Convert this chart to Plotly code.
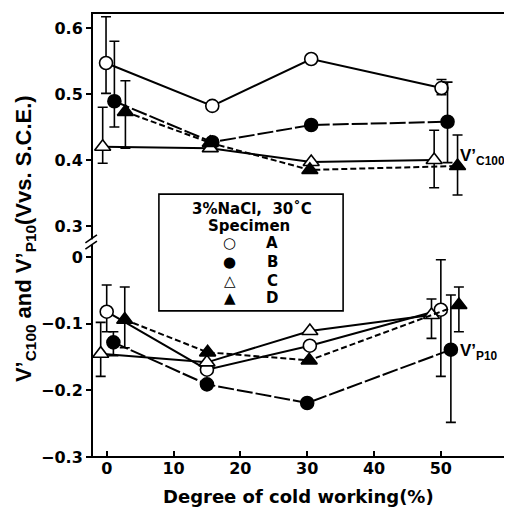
import plotly.graph_objects as go

# ---------------- data ----------------
# Upper panel: V'C100 (V vs. S.C.E.)
c100_A_x = [-0.1, 15.8, 30.6, 50.1]
c100_A_v = [0.547, 0.482, 0.553, 0.509]
c100_A_ep = [0.070, None, None, 0.013]
c100_A_em = [0.046, None, None, 0.010]

c100_B_x = [1.15, 15.8, 30.6, 51.0]
c100_B_v = [0.489, 0.427, 0.453, 0.458]
c100_B_ep = [0.091, None, None, 0.060]
c100_B_em = [0.039, None, None, 0.062]

c100_C_x = [-0.6, 15.5, 30.6, 49.0]
c100_C_v = [0.420, 0.418, 0.397, 0.400]
c100_C_ep = [0.060, None, None, 0.045]
c100_C_em = [0.025, None, None, 0.042]

c100_D_x = [2.8, 15.5, 30.4, 52.5]
c100_D_v = [0.473, 0.426, 0.385, 0.391]
c100_D_ep = [0.047, None, None, 0.047]
c100_D_em = [0.055, None, None, 0.044]

# Lower panel: V'P10 (V vs. S.C.E.)
p10_A_x = [0.0, 15.0, 30.4, 50.0]
p10_A_v = [-0.082, -0.169, -0.133, -0.079]
p10_A_ep = [0.040, None, None, 0.075]
p10_A_em = [0.030, None, None, 0.100]

p10_B_x = [1.0, 15.0, 30.0, 51.5]
p10_B_v = [-0.128, -0.191, -0.219, -0.139]
p10_B_ep = [0.016, None, None, 0.082]
p10_B_em = [0.020, None, None, 0.109]

p10_C_x = [-0.9, 15.0, 30.4, 48.6]
p10_C_v = [-0.145, -0.158, -0.111, -0.087]
p10_C_ep = [0.047, None, None, 0.024]
p10_C_em = [0.034, None, None, 0.035]

p10_D_x = [2.7, 15.1, 30.3, 52.7]
p10_D_v = [-0.094, -0.143, -0.155, -0.072]
p10_D_ep = [0.049, None, None, 0.027]
p10_D_em = [0.042, None, None, 0.040]

x_ticks = [0, 10, 20, 30, 40, 50]
upper_ticks = [0.3, 0.4, 0.5, 0.6]
lower_ticks = [-0.3, -0.2, -0.1, 0.0]
lower_ticktext = ["\u22120.3", "\u22120.2", "\u22120.1", "0"]

specimens = ["A", "B", "C", "D"]
legend_symbols = ["\u25CB", "\u25CF", "\u25B3", "\u25B2"]

# ---------------- styling ----------------
FONT = "DejaVu Sans"
LFONT = "Liberation Sans"
styles = {
    "A": dict(symbol="circle", fill="white", dash="solid"),
    "B": dict(symbol="circle", fill="black", dash="16px,3px"),
    "C": dict(symbol="triangle-up", fill="white", dash="solid"),
    "D": dict(symbol="triangle-up", fill="black", dash="6px,3px"),
}

fig = go.Figure()


def add_series(name, xs, vs, ep, em, yaxis):
    st = styles[name]
    fig.add_trace(go.Scatter(
        x=xs, y=vs, mode="lines+markers", name=name, showlegend=False,
        xaxis="x", yaxis=yaxis,
        line=dict(color="black", width=2, dash=st["dash"]),
        marker=dict(symbol=st["symbol"], size=13 if "circle" in st["symbol"] else 14,
                    color=st["fill"], line=dict(color="black", width=1.6)),
        error_y=dict(type="data", symmetric=False, array=ep, arrayminus=em,
                     color="black", thickness=1.6, width=5),
    ))


add_series("A", c100_A_x, c100_A_v, c100_A_ep, c100_A_em, "y2")
add_series("B", c100_B_x, c100_B_v, c100_B_ep, c100_B_em, "y2")
add_series("C", c100_C_x, c100_C_v, c100_C_ep, c100_C_em, "y2")
add_series("D", c100_D_x, c100_D_v, c100_D_ep, c100_D_em, "y2")
add_series("A", p10_A_x, p10_A_v, p10_A_ep, p10_A_em, "y")
add_series("B", p10_B_x, p10_B_v, p10_B_ep, p10_B_em, "y")
add_series("C", p10_C_x, p10_C_v, p10_C_ep, p10_C_em, "y")
add_series("D", p10_D_x, p10_D_v, p10_D_ep, p10_D_em, "y")

BREAK = 0.4842
tickfont = dict(family=FONT, size=16, color="black", weight="bold")

# the page body adds an 8px margin, so the figure is 8px smaller than the window
fig.update_layout(
    width=504, height=502,
    margin=dict(l=84, r=7, t=5, b=53),
    paper_bgcolor="white", plot_bgcolor="white",
    font=dict(family=FONT, color="black"),
    xaxis=dict(domain=[0, 1], range=[-2.2, 59.6], anchor="y",
               tickvals=x_ticks, ticks="inside", ticklen=6, tickwidth=1.5,
               tickcolor="black", showgrid=False, zeroline=False, showline=False,
               tickfont=tickfont),
    yaxis=dict(domain=[0, BREAK], range=[-0.3, 0.0225], anchor="x",
               tickvals=lower_ticks, ticktext=lower_ticktext,
               ticks="outside", ticklen=5, tickwidth=1.5, tickcolor="black",
               showgrid=False, zeroline=False, showline=False, tickfont=tickfont),
    yaxis2=dict(domain=[BREAK, 1], range=[0.2758, 0.6227], anchor="x",
                tickvals=upper_ticks, tickformat=".1f",
                ticks="outside", ticklen=5, tickwidth=1.5, tickcolor="black",
                showgrid=False, zeroline=False, showline=False, tickfont=tickfont),
)

# frame
fig.add_shape(type="rect", xref="paper", yref="paper", x0=0, x1=1, y0=0, y1=1,
              line=dict(color="black", width=2), layer="above")
# axis break mark
fig.add_shape(type="rect", xref="paper", yref="paper", x0=-0.006, x1=0.006,
              y0=BREAK - 0.006, y1=BREAK + 0.006, line=dict(width=0),
              fillcolor="white", layer="above")
for dy in (-0.007, 0.007):
    fig.add_shape(type="line", xref="paper", yref="paper",
                  x0=-0.016, x1=0.012, y0=BREAK + dy - 0.009, y1=BREAK + dy + 0.009,
                  line=dict(color="black", width=1.6), layer="above")


def note(x, y, text, size, family=FONT, angle=0, xanchor="center"):
    fig.add_annotation(xref="paper", yref="paper", x=x, y=y, text=text,
                       showarrow=False, textangle=angle,
                       xanchor=xanchor, yanchor="middle",
                       font=dict(family=family, size=size, color="black"))


# legend box
fig.add_shape(type="rect", xref="paper", yref="paper", x0=0.162, x1=0.608,
              y0=0.329, y1=0.592, line=dict(color="black", width=1.6),
              fillcolor="white", layer="above")
note(0.387, 0.558, "<b>3%NaCl,  30\u02daC</b>", 15)
note(0.380, 0.521, "<b>Specimen</b>", 15)
rows_y = [0.482, 0.439, 0.396, 0.358]
for sym, lab, ry in zip(legend_symbols, specimens, rows_y):
    note(0.334, ry, sym, 15)
    note(0.436, ry, "<b>%s</b>" % lab, 15)

# curve labels
note(0.886, 0.676, "<b>V\u2019<sub>C100</sub></b>", 17, family=LFONT, xanchor="left")
note(0.886, 0.236, "<b>V\u2019<sub>P10</sub></b>", 17, family=LFONT, xanchor="left")

# axis titles
note(0.5, -0.09, "<b>Degree of cold working(%)</b>", 18)
note(-0.162, 0.491,
     "<b>V\u2019<sub>C100</sub> and V\u2019<sub>P10</sub>(Vvs. S.C.E.)</b>",
     22, family=LFONT, angle=-90)

fig.write_html("out.html")
